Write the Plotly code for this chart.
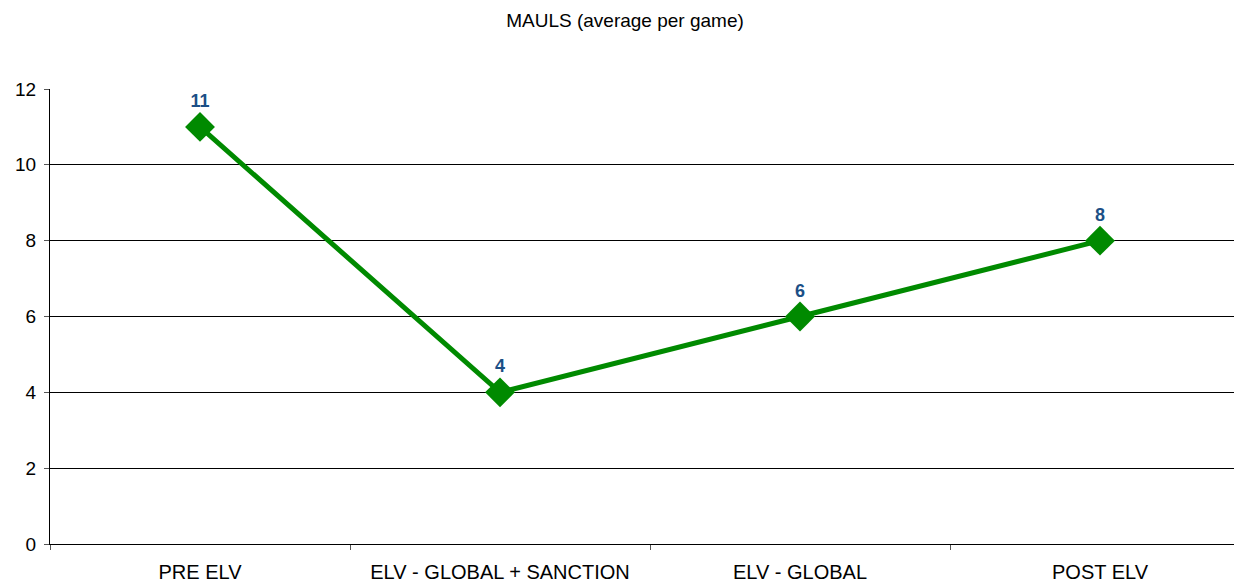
import plotly.graph_objects as go

categories = ["PRE ELV", "ELV - GLOBAL + SANCTION", "ELV - GLOBAL", "POST ELV"]
mauls = [11, 4, 6, 8]
y_ticks = [0, 2, 4, 6, 8, 10, 12]

# page has an 8px body margin, so the figure is offset by 8px
W, H = 1234, 579
ml, mr, mt, mb = 42, 0, 81, 43
plot_w = W - ml - mr
x_range = [-0.5, -0.5 + plot_w / 300.0]

FONT = "Liberation Sans, Arial, sans-serif"

fig = go.Figure()
fig.add_trace(go.Scatter(
    x=categories, y=mauls,
    mode="lines+markers+text",
    line=dict(color="#008A00", width=5),
    marker=dict(symbol="diamond", size=23, color="#008A00"),
    text=[str(v) for v in mauls],
    textposition="top center",
    textfont=dict(family=FONT, size=18, color="#1B4F86", weight="bold"),
    cliponaxis=False,
    showlegend=False,
))

fig.update_layout(
    width=W, height=H,
    margin=dict(l=ml, r=mr, t=mt, b=mb),
    paper_bgcolor="white", plot_bgcolor="white",
    title=dict(text="MAULS (average per game)", x=0.5, xanchor="center", y=0.979, yanchor="middle",
               font=dict(family=FONT, size=19, color="black")),
    font=dict(family=FONT, size=18, color="black"),
    xaxis=dict(
        type="category", range=x_range, tickson="boundaries",
        showgrid=False, showline=True, linecolor="black", linewidth=1,
        ticks="outside", ticklen=5, tickcolor="#555", zeroline=False,
        tickfont=dict(size=20), ticklabelstandoff=10,
    ),
    yaxis=dict(
        range=[0, 12], tickvals=y_ticks, showgrid=True, gridcolor="black", gridwidth=1,
        showline=True, linecolor="black", linewidth=1, ticks="outside", ticklen=5,
        tickcolor="#555", zeroline=False, tickfont=dict(size=19), ticklabelstandoff=4,
    ),
)

fig.write_html("out.html")
